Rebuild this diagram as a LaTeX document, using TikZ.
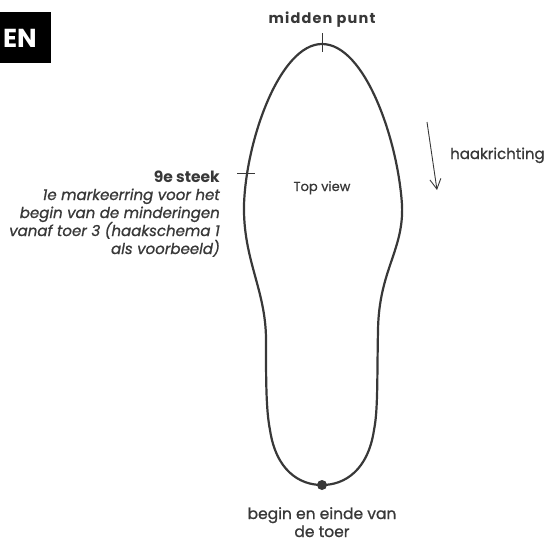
\documentclass[tikz,border=0pt]{standalone}
\usepackage{fontspec}
\setmainfont{Poppins}[UprightFeatures={FakeBold=0.9},ItalicFeatures={FakeBold=0.9}]
\usetikzlibrary{arrows.meta}
\definecolor{ink}{HTML}{383838}
\tikzset{
  lbl/.style={text=ink, inner sep=0pt},
  outline/.style={draw=ink, line width=2.2pt},
  tick/.style={draw=ink, line width=0.9pt}
}
\begin{document}
\begin{tikzpicture}[x=1pt,y=-1pt]
\useasboundingbox (0,0) rectangle (552,544);
% black box
\fill[black] (0,12) rectangle (51,63);
\node[text=white, font=\fontsize{26}{26}\selectfont\bfseries, anchor=base east, inner sep=0pt] (en) at (37,47) {EN};
% sole outline
\draw[outline] (322,44)
 .. controls (365,44) and (398,140) .. (402,205)
 .. controls (404,250) and (379,270) .. (378,330)
 .. controls (377,380) and (378,410) .. (374,430)
 .. controls (368,470) and (345,485) .. (322,485)
 .. controls (299,485) and (276,470) .. (270,430)
 .. controls (266,410) and (266,380) .. (266,340)
 .. controls (266,290) and (243,260) .. (244,205)
 .. controls (246,140) and (280,44) .. (322,44) -- cycle;
% ticks
\coordinate (tt1) at (322,33); \coordinate (tt2) at (322,52);
\draw[tick] (tt1) -- (tt2);
\coordinate (lt1) at (237,173); \coordinate (lt2) at (255,173);
\draw[tick] (lt1) -- (lt2);
% dot
\fill[ink] (322,485) circle (5);
% labels
\node[lbl, font=\fontsize{14.5}{18}\selectfont\bfseries, anchor=base] (mp) at (322,23) {\addfontfeature{LetterSpace=8}midden punt};
\node[lbl, font=\fontsize{15.5}{18}\selectfont\bfseries, anchor=base east] (st) at (220,182) {9e steek};
\node[lbl, font=\fontsize{15}{18}\selectfont\itshape, anchor=base east] (mk) at (220,200) {1e markeerring voor het};
\node[lbl, font=\fontsize{15}{18}\selectfont\itshape, anchor=base east] (mk2) at (220,218) {begin van de minderingen};
\node[lbl, font=\fontsize{15}{18}\selectfont\itshape, anchor=base east] (mk3) at (220,236) {vanaf toer 3 (haakschema 1};
\node[lbl, font=\fontsize{15}{18}\selectfont\itshape, anchor=base east] (mk4) at (220,254) {als voorbeeld)};
\node[lbl, font=\fontsize{13}{16}\selectfont, anchor=base] (tv) at (322,191) {Top view};
\node[lbl, font=\fontsize{15}{18}\selectfont, anchor=base west] (hk) at (450,159) {haakrichting};
\coordinate (a1) at (427,122); \coordinate (a2) at (437,190);
\draw[ink, line width=0.9pt, -{Straight Barb[length=10pt,width=11pt]}] (a1) -- (a2);
\node[lbl, font=\fontsize{15.5}{18}\selectfont, anchor=base] (be) at (322,519) {begin en einde van};
\node[lbl, font=\fontsize{15.5}{18}\selectfont, anchor=base] (be2) at (322,537) {de toer};
\end{tikzpicture}
\end{document}
